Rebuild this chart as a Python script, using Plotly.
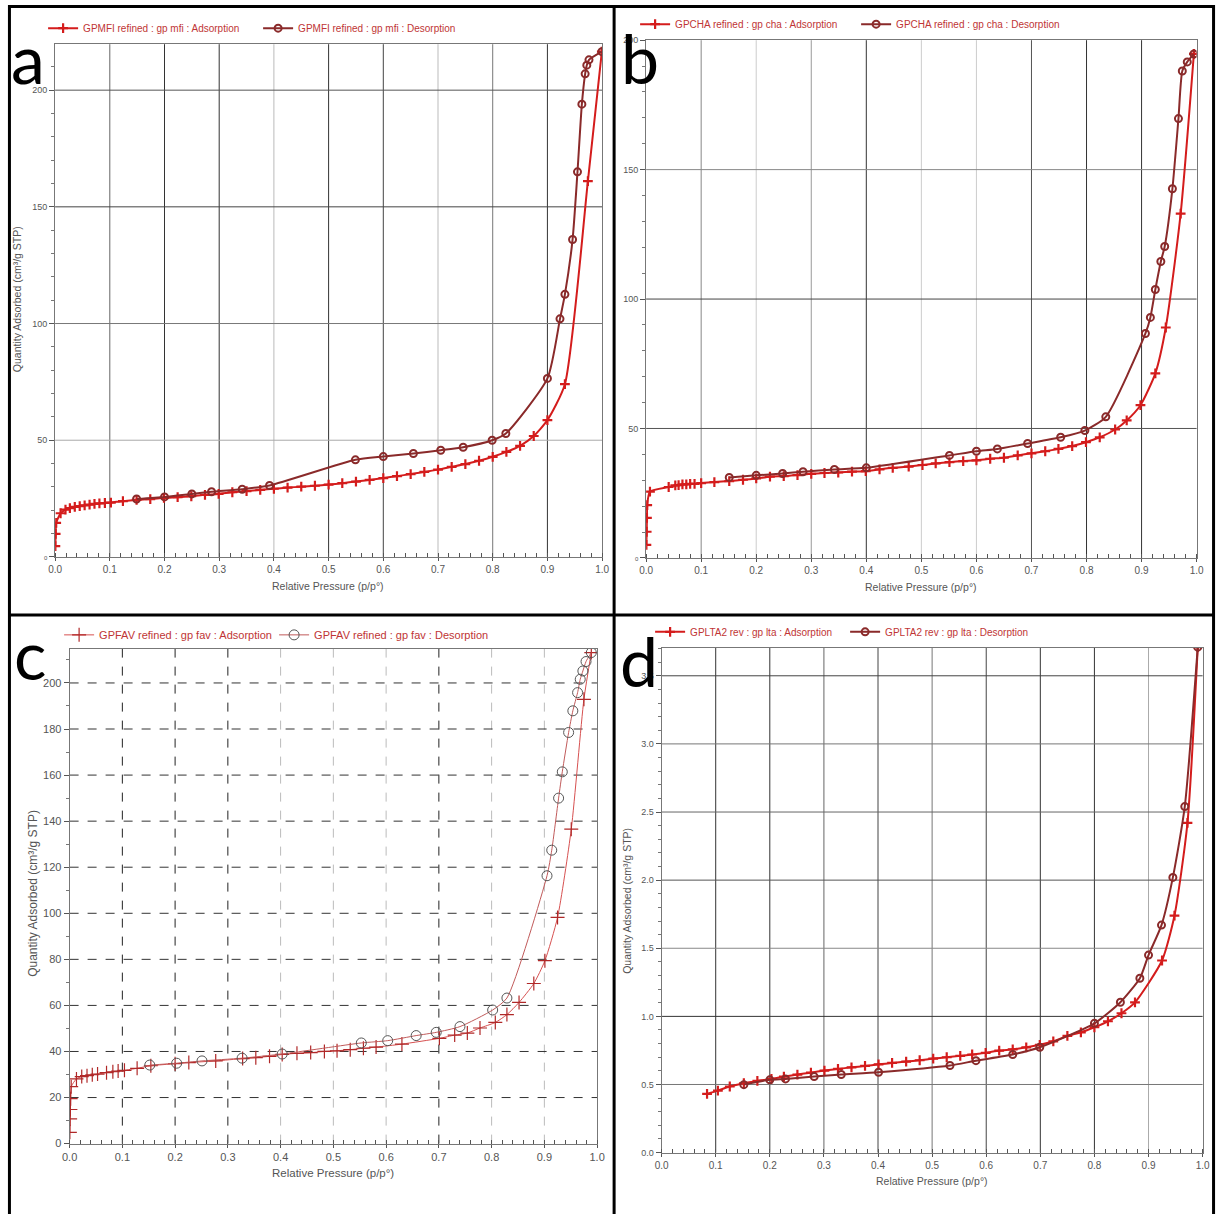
import plotly.graph_objects as go

# figure size in CSS pixels; the page shows it inside the default body margin and the final
# picture is that page slightly shrunk, so picture positions are mapped back to figure pixels
W, H = 1223, 1220
OFF_X, SCALE_X = 7.9, 0.9869
OFF_Y, SCALE_Y = 3.8, 0.9915

# ---------------- data: N2 isotherms, relative pressure vs quantity adsorbed ----------------
# (a) GPMFI
mfi_ads_p = [0.0005, 0.001, 0.002, 0.010, 0.019, 0.027, 0.036, 0.045, 0.054, 0.063, 0.072, 0.081, 0.091,
             0.102, 0.124, 0.149, 0.174, 0.199, 0.224, 0.249, 0.274, 0.299, 0.324, 0.350, 0.375, 0.400,
             0.425, 0.450, 0.475, 0.500, 0.525, 0.550, 0.575, 0.600, 0.625, 0.650, 0.675, 0.700, 0.725,
             0.750, 0.775, 0.800, 0.825, 0.850, 0.875, 0.900, 0.932, 0.974, 0.9995]
mfi_ads_q = [4.6, 9.9, 14.6, 18.7, 20.3, 20.9, 21.4, 21.8, 22.1, 22.4, 22.7, 22.9, 23.1,
             23.3, 23.9, 24.4, 24.8, 25.3, 25.6, 26.0, 26.6, 27.0, 27.7, 28.2, 28.7, 29.2,
             29.7, 30.1, 30.5, 31.0, 31.6, 32.3, 33.0, 33.8, 34.6, 35.5, 36.4, 37.4, 38.6,
             39.8, 41.2, 42.9, 45.0, 47.6, 51.8, 58.6, 74.0, 161.0, 216.5]
mfi_des_p = [0.9995, 0.976, 0.972, 0.969, 0.963, 0.955, 0.946, 0.932, 0.923, 0.900, 0.824, 0.799, 0.746,
             0.705, 0.655, 0.600, 0.549, 0.392, 0.342, 0.286, 0.250, 0.200, 0.149]
mfi_des_q = [216.5, 213.0, 210.7, 207.0, 194.0, 165.0, 136.0, 112.5, 102.0, 76.5, 52.9, 50.0, 47.0,
             45.7, 44.3, 43.0, 41.6, 30.6, 29.0, 27.9, 27.0, 25.7, 24.8]

# (b) GPCHA
cha_ads_p = [0.0005, 0.001, 0.0015, 0.002, 0.007, 0.041, 0.053, 0.059, 0.066, 0.073, 0.080, 0.088, 0.100,
             0.124, 0.151, 0.176, 0.200, 0.225, 0.250, 0.275, 0.300, 0.324, 0.349, 0.374, 0.399, 0.424,
             0.448, 0.477, 0.502, 0.526, 0.551, 0.576, 0.600, 0.625, 0.650, 0.675, 0.700, 0.725, 0.749,
             0.774, 0.799, 0.824, 0.852, 0.873, 0.898, 0.925, 0.944, 0.971, 0.995]
cha_ads_q = [5.0, 10.1, 15.5, 20.4, 25.6, 27.4, 28.0, 28.1, 28.4, 28.4, 28.6, 28.6, 28.9,
             29.3, 29.7, 30.2, 30.7, 31.4, 31.6, 32.0, 32.5, 32.8, 33.0, 33.3, 33.5, 34.2,
             34.8, 35.3, 35.9, 36.5, 37.0, 37.4, 37.7, 38.3, 38.7, 39.6, 40.4, 41.2, 42.1,
             43.2, 44.7, 46.6, 49.6, 53.1, 59.0, 71.3, 89.0, 133.0, 194.7]
cha_des_p = [0.995, 0.983, 0.974, 0.967, 0.956, 0.942, 0.935, 0.925, 0.916, 0.907, 0.835, 0.797, 0.753,
             0.693, 0.638, 0.600, 0.551, 0.400, 0.342, 0.285, 0.248, 0.200, 0.151]
cha_des_q = [194.7, 191.6, 188.1, 169.7, 142.6, 120.3, 114.5, 103.7, 92.9, 86.7, 54.5, 49.2, 46.6,
             44.2, 42.1, 41.2, 39.6, 34.8, 34.2, 33.3, 32.6, 31.9, 31.1]

# (c) GPFAV
fav_ads_p = [0.0005, 0.001, 0.0015, 0.002, 0.003, 0.013, 0.023, 0.033, 0.043, 0.053, 0.070, 0.082, 0.092,
             0.104, 0.128, 0.154, 0.200, 0.226, 0.277, 0.328, 0.353, 0.379, 0.403, 0.431, 0.457, 0.483,
             0.507, 0.532, 0.557, 0.581, 0.630, 0.701, 0.730, 0.754, 0.778, 0.807, 0.829, 0.852, 0.880,
             0.901, 0.925, 0.951, 0.975, 0.989]
fav_ads_q = [4.9, 10.7, 14.8, 19.5, 24.7, 28.1, 29.1, 29.5, 29.9, 30.2, 30.8, 31.2, 31.5,
             31.8, 32.7, 33.8, 34.7, 35.2, 35.9, 36.9, 37.3, 37.9, 38.7, 39.2, 39.5, 40.0,
             40.3, 40.8, 41.4, 41.9, 43.2, 45.7, 47.1, 48.0, 50.2, 52.6, 56.0, 61.3, 69.5,
             79.4, 98.2, 136.5, 192.9, 213.2]
fav_des_p = [0.989, 0.979, 0.973, 0.968, 0.963, 0.954, 0.946, 0.934, 0.927, 0.914, 0.905, 0.829, 0.802,
             0.740, 0.695, 0.657, 0.603, 0.553, 0.403, 0.327, 0.251, 0.203, 0.152]
fav_des_q = [213.2, 209.3, 205.2, 201.6, 195.8, 187.9, 178.5, 161.4, 150.0, 127.4, 116.3, 63.2, 58.0,
             50.8, 48.3, 46.9, 44.7, 43.7, 38.9, 37.1, 35.9, 34.9, 34.1]

# (d) GPLTA2
lta_ads_p = [0.084, 0.104, 0.126, 0.152, 0.177, 0.203, 0.226, 0.251, 0.276, 0.301, 0.326, 0.351, 0.376,
             0.401, 0.426, 0.452, 0.477, 0.502, 0.527, 0.552, 0.574, 0.599, 0.624, 0.649, 0.674, 0.699,
             0.724, 0.750, 0.775, 0.800, 0.825, 0.850, 0.875, 0.925, 0.948, 0.972, 0.991]
lta_ads_q = [0.431, 0.455, 0.485, 0.509, 0.526, 0.541, 0.558, 0.573, 0.587, 0.602, 0.614, 0.626, 0.636,
             0.648, 0.658, 0.668, 0.678, 0.690, 0.700, 0.710, 0.720, 0.732, 0.749, 0.758, 0.773, 0.791,
             0.817, 0.857, 0.883, 0.920, 0.964, 1.023, 1.103, 1.41, 1.74, 2.42, 3.71]
lta_des_p = [0.991, 0.967, 0.945, 0.924, 0.900, 0.884, 0.848, 0.800, 0.699, 0.649, 0.581, 0.533, 0.401,
             0.332, 0.282, 0.229, 0.200, 0.152]
lta_des_q = [3.71, 2.54, 2.02, 1.67, 1.45, 1.28, 1.104, 0.949, 0.773, 0.720, 0.675, 0.639, 0.590,
             0.573, 0.558, 0.541, 0.534, 0.499]

pressure_ticks = [0.0, 0.1, 0.2, 0.3, 0.4, 0.5, 0.6, 0.7, 0.8, 0.9, 1.0]
mfi_qticks = [0, 50, 100, 150, 200]
cha_qticks = [0, 50, 100, 150, 200]
fav_qticks = [0, 20, 40, 60, 80, 100, 120, 140, 160, 180, 200]
lta_qticks = [0.0, 0.5, 1.0, 1.5, 2.0, 2.5, 3.0, 3.5]

ADS_RED = "#d41c1c"
DES_BROWN = "#8a2a2a"
LEGEND_RED = "#c03535"
TICK_GREY = "#555555"


def px_x(x):
    """picture column -> paper fraction"""
    f = (x - OFF_X) / SCALE_X
    return min(max(f / W, 0.0), 1.0)


def px_y(y):
    """picture row -> paper fraction"""
    f = (y - OFF_Y) / SCALE_Y
    return min(max(1 - f / H, 0.0), 1.0)


fig = go.Figure()

# panel boxes in picture pixels: (left, top, right, bottom), y range top
panels = {
    "a": dict(box=(55, 43, 602, 556), ytop=219.7, ticks=mfi_qticks, yminor=10, fmt="{:d}"),
    "b": dict(box=(646, 39, 1196.5, 557), ytop=200.0, ticks=cha_qticks, yminor=10, fmt="{:d}"),
    "c": dict(box=(69.5, 648, 597, 1143), ytop=214.8, ticks=fav_qticks, yminor=10, fmt="{:d}"),
    "d": dict(box=(661.5, 647, 1202.5, 1152), ytop=3.705, ticks=lta_qticks, yminor=0.1, fmt="{:.1f}"),
}

axis_ids = {"a": ("x", "y", ""), "b": ("x2", "y2", "2"), "c": ("x3", "y3", "3"), "d": ("x4", "y4", "4")}

for key, spec in panels.items():
    l, t, r, b = spec["box"]
    xa, ya, sfx = axis_ids[key]
    ticktext = []
    for v in spec["ticks"]:
        s = spec["fmt"].format(v)
        if key in ("a", "b") and v == 0:
            s = '<span style="font-size:6px">0</span>'
        ticktext.append(s)
    c_panel = key == "c"
    fig.update_layout(**{
        "xaxis" + sfx: dict(
            domain=[px_x(l), px_x(r)], range=[0, 1], anchor=ya,
            tickvals=pressure_ticks, ticktext=["{:.1f}".format(v) for v in pressure_ticks],
            showgrid=False, zeroline=False, showline=True, linecolor="#777", linewidth=1,
            mirror=True, ticks="outside", ticklen=3, tickcolor="#555",
            tickfont=dict(family="Liberation Sans, Arial", size=11 if c_panel else 10, color=TICK_GREY),
            minor=dict(dtick=0.02, ticks="inside", ticklen=4, tickcolor="#555", showgrid=False),
            fixedrange=True,
        ),
        "yaxis" + sfx: dict(
            domain=[px_y(b), px_y(t)], range=[0, spec["ytop"]], anchor=xa,
            tickvals=spec["ticks"], ticktext=ticktext,
            showgrid=False, zeroline=False, showline=True, linecolor="#777", linewidth=1,
            mirror=True, ticks="outside", ticklen=5, tickcolor="#555",
            tickfont=dict(family="Liberation Sans, Arial", size=11 if c_panel else 9, color=TICK_GREY),
            minor=dict(dtick=spec["yminor"], ticks="outside", ticklen=3, tickcolor="#777", showgrid=False),
            fixedrange=True,
        ),
    })

# grid line styling per panel (colour for each tick position)
vgrid = {
    "a": ["#666", "#333", "#333", "#bbb", "#333", "#444", "#bbb", "#777", "#333"],
    "b": ["#888", "#ccc", "#999", "#333", "#ccc", "#ccc", "#555", "#333", "#333"],
    "c": ["#222", "#222", "#222", "#bbb", "#bbb", "#bbb", "#222", "#bbb", "#bbb"],
    "d": ["#333", "#333", "#666", "#444", "#777", "#444", "#333", "#333", "#aaa"],
}
hgrid = {
    "a": {50: "#aaa", 100: "#777", 150: "#444", 200: "#555"},
    "b": {50: "#555", 100: "#444", 150: "#888"},
    "c": {v: "#333" for v in fav_qticks[1:]},
    "d": {0.5: "#777", 1.0: "#333", 1.5: "#888", 2.0: "#555", 2.5: "#666", 3.0: "#777", 3.5: "#444"},
}

shapes = []
for key in panels:
    xa, ya, _ = axis_ids[key]
    dash = "dash" if key == "c" else "solid"
    for v, col in zip(pressure_ticks[1:-1], vgrid[key]):
        shapes.append(dict(type="line", xref=xa, yref=ya + " domain", x0=v, x1=v, y0=0, y1=1,
                           line=dict(color=col, width=1, dash=dash), layer="below"))
    for v, col in hgrid[key].items():
        shapes.append(dict(type="line", xref=xa + " domain", yref=ya, x0=0, x1=1, y0=v, y1=v,
                           line=dict(color=col, width=1, dash=dash), layer="below"))

# outer frame (on the figure border) and dividers between the four panels
black3 = dict(color="black", width=3)
for pos in (0.0012, 0.9988):
    shapes.append(dict(type="line", xref="paper", yref="paper", x0=pos, x1=pos, y0=0, y1=1, line=black3))
shapes.append(dict(type="line", xref="paper", yref="paper", x0=0, x1=1, y0=0.9988, y1=0.9988, line=black3))
shapes.append(dict(type="line", xref="paper", yref="paper", x0=px_x(614), x1=px_x(614), y0=0, y1=1,
                   line=black3))
shapes.append(dict(type="line", xref="paper", yref="paper", x0=0, x1=1, y0=px_y(614), y1=px_y(614),
                   line=black3))
fig.update_layout(shapes=shapes)

# ---------------- traces ----------------
series = [
    ("a", "legend", "GPMFI refined : gp mfi : Adsorption", mfi_ads_p, mfi_ads_q, "ads"),
    ("a", "legend", "GPMFI refined : gp mfi : Desorption", mfi_des_p, mfi_des_q, "des"),
    ("b", "legend2", "GPCHA refined : gp cha : Adsorption", cha_ads_p, cha_ads_q, "ads"),
    ("b", "legend2", "GPCHA refined : gp cha : Desorption", cha_des_p, cha_des_q, "des"),
    ("c", "legend3", "GPFAV refined : gp fav : Adsorption", fav_ads_p, fav_ads_q, "ads"),
    ("c", "legend3", "GPFAV refined : gp fav : Desorption", fav_des_p, fav_des_q, "des"),
    ("d", "legend4", "GPLTA2 rev : gp lta : Adsorption", lta_ads_p, lta_ads_q, "ads"),
    ("d", "legend4", "GPLTA2 rev : gp lta : Desorption", lta_des_p, lta_des_q, "des"),
]

for key, leg, name, p, q, kind in series:
    xa, ya, _ = axis_ids[key]
    if key == "c":
        if kind == "ads":
            line = dict(color="#d65050", width=1, shape="spline", smoothing=0.6)
            marker = dict(symbol="cross-thin", size=10, line=dict(color="#b02828", width=1.2))
        else:
            line = dict(color="#c05a5a", width=1, shape="spline", smoothing=0.6)
            marker = dict(symbol="circle-open", size=10, color="#555", line=dict(color="#555", width=1))
    else:
        if kind == "ads":
            line = dict(color=ADS_RED, width=2, shape="spline", smoothing=0.6)
            marker = dict(symbol="cross-thin", size=7, line=dict(color=ADS_RED, width=2.2))
        else:
            line = dict(color=DES_BROWN, width=2, shape="spline", smoothing=0.6)
            marker = dict(symbol="circle-open", size=7, color=DES_BROWN, line=dict(color=DES_BROWN, width=2))
    fig.add_trace(go.Scatter(x=p, y=q, mode="lines+markers", name=name, line=line, marker=marker,
                             xaxis=xa, yaxis=ya, legend=leg, hoverinfo="x+y"))

# legends: one per panel, placed above each plot
legend_pos = {
    "legend": (43, 27, 170, 10),
    "legend2": (635, 23, 176, 10),
    "legend3": (59, 634, 170, 11),
    "legend4": (650, 631, 150, 10),
}
for lname, (lx, ly, ew, fs) in legend_pos.items():
    fig.update_layout(**{lname: dict(
        x=px_x(lx), y=px_y(ly), xanchor="left", yanchor="middle", orientation="h",
        bgcolor="rgba(0,0,0,0)", borderwidth=0,
        font=dict(family="Liberation Sans, Arial", size=fs, color=LEGEND_RED),
        entrywidth=ew, entrywidthmode="pixels", itemclick=False, itemdoubleclick=False,
    )})

# annotations: panel letters and axis titles
ann = []
for letter, (lx, ly) in {"a": (28, 85), "b": (640, 85), "c": (30, 681), "d": (639, 688)}.items():
    ann.append(dict(text=letter, x=px_x(lx), y=px_y(ly), xref="paper", yref="paper",
                    xanchor="center", yanchor="bottom", showarrow=False, yshift=-14,
                    font=dict(family="Lato, Open Sans", size=68, color="black")))

ytitle = "Quantity Adsorbed (cm³/g STP)"
for (tx, ty, fs) in [(17, 298, 10.5), (33, 893, 12), (627, 900, 10.5)]:
    ann.append(dict(text=ytitle, x=px_x(tx), y=px_y(ty), xref="paper", yref="paper", textangle=-90,
                    showarrow=False, xanchor="center", yanchor="middle",
                    font=dict(family="Liberation Sans, Arial", size=fs, color=TICK_GREY)))

xtitle = "Relative Pressure (p/p°)"
for (tx, ty, fs) in [(328, 585, 10.5), (921, 586, 10.5), (333, 1172, 11.5), (932, 1180, 10.5)]:
    ann.append(dict(text=xtitle, x=px_x(tx), y=px_y(ty), xref="paper", yref="paper",
                    showarrow=False, xanchor="center", yanchor="middle",
                    font=dict(family="Liberation Sans, Arial", size=fs, color=TICK_GREY)))

fig.update_layout(
    annotations=ann,
    width=W, height=H, margin=dict(l=0, r=0, t=0, b=0),
    paper_bgcolor="white", plot_bgcolor="white",
    showlegend=True,
)

fig.write_html("out.html")
